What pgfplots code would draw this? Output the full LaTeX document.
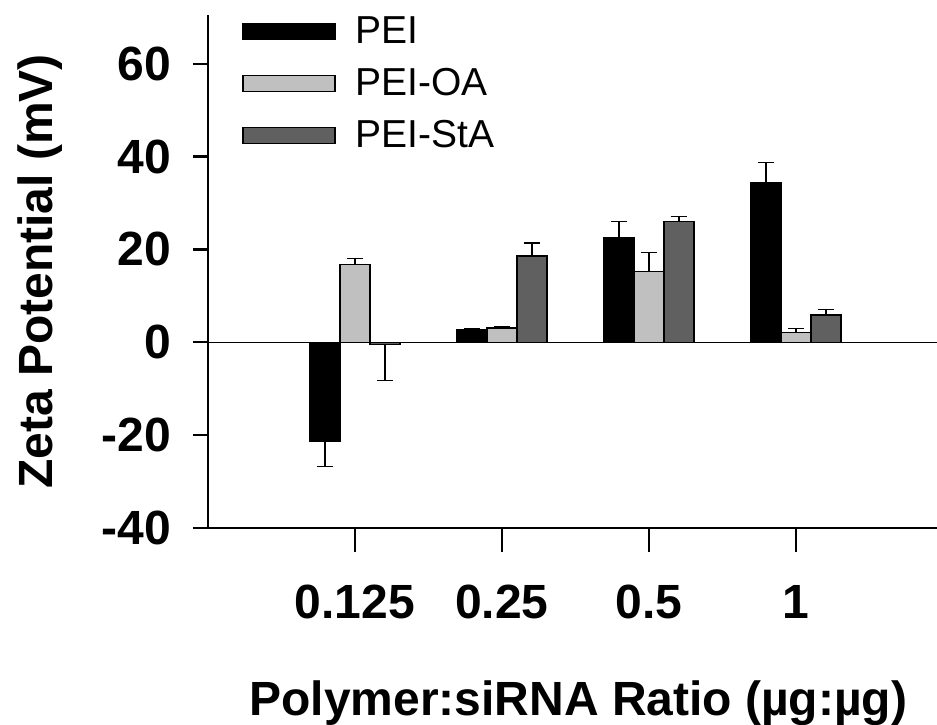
\documentclass[border=0pt]{standalone}
\usepackage{pgfplots}
\pgfplotsset{compat=1.18}
\usepackage{pgfplotstable}
\usepackage{fontspec}
\setmainfont{Liberation Sans}
\definecolor{oagray}{RGB}{192,192,192}
\definecolor{stagray}{RGB}{96,96,96}

\pgfplotstableread{
x y ep em
1 -21.4 0 5.3
2 2.8 0.2 0
3 22.6 3.4 0
4 34.4 4.4 0
}\pei
\pgfplotstableread{
x y ep em
1 16.8 1.3 0
2 3.1 0.2 0
3 15.3 4.1 0
4 2.15 0.8 0
}\peioa
\pgfplotstableread{
x y ep em
1 -0.4 0 7.9
2 18.6 2.8 0
3 26.1 1.0 0
4 5.9 1.1 0
}\peista

\begin{document}
\begin{tikzpicture}
\useasboundingbox (-104pt,-98pt) rectangle (364.5pt,264pt);
\begin{axis}[
  at={(0,0)}, anchor=south west,
  scale only axis,
  width=364.5pt, height=256.5pt,
  xmin=0, xmax=4.96,
  ymin=-40, ymax=70.5,
  axis x line*=bottom, axis y line*=left,
  axis line style={line width=1.2pt},
  tick style={line width=1.2pt, black},
  tick align=outside,
  major tick length=7.5pt,
  xtick style={/pgfplots/major tick length=12pt},
  xtick={1,2,3,4},
  xticklabels={0.125,0.25,0.5,1},
  ytick={-40,-20,0,20,40,60},
  extra y ticks={0},
  extra y tick labels={},
  extra y tick style={grid=major, major grid style={black, line width=0.6pt}, /pgfplots/major tick length=0pt},
  /pgf/number format/assume math mode=true,
  tick label style={font=\fontsize{24}{28}\selectfont\bfseries},
  yticklabel style={xshift=-7.5pt},
  xticklabel style={yshift=-17.5pt},
  xlabel={Polymer:siRNA Ratio (µg:µg)},
  ylabel={Zeta Potential (mV)},
  label style={font=\fontsize{24}{28}\selectfont\bfseries},
  xlabel style={at={(axis description cs:0.508,0)}, anchor=center, yshift=-87.5pt},
  ylabel style={at={(axis description cs:-0.2305,0.5)}, anchor=center},
  ybar=0pt, bar width=15pt,
  legend style={draw=none, fill=none, at={(axis description cs:0.0384,1.0058)}, anchor=north west,
    font=\fontsize{19.5}{22}\selectfont, nodes={inner sep=0pt}, row sep=11pt, column sep=10pt},
  legend cell align=left,
  legend image code/.code={\draw[#1, draw=black, line width=0.6pt] (0pt,-3.9pt) rectangle (46pt,3.9pt);},
  error bars/y dir=both, error bars/y explicit,
  error bars/error bar style={line width=0.6pt, black},
  error bars/error mark options={line width=0.6pt, black, mark size=4pt, rotate=90},
]
\addplot[fill=black, draw=black, line width=0.6pt] table[x=x, y=y, y error plus=ep, y error minus=em] {\pei};
\addlegendentry{PEI}
\addplot[fill=oagray, draw=black, line width=0.6pt] table[x=x, y=y, y error plus=ep, y error minus=em] {\peioa};
\addlegendentry{PEI-OA}
\addplot[fill=stagray, draw=black, line width=0.6pt] table[x=x, y=y, y error plus=ep, y error minus=em] {\peista};
\addlegendentry{PEI-StA}
\end{axis}
\end{tikzpicture}
\end{document}
